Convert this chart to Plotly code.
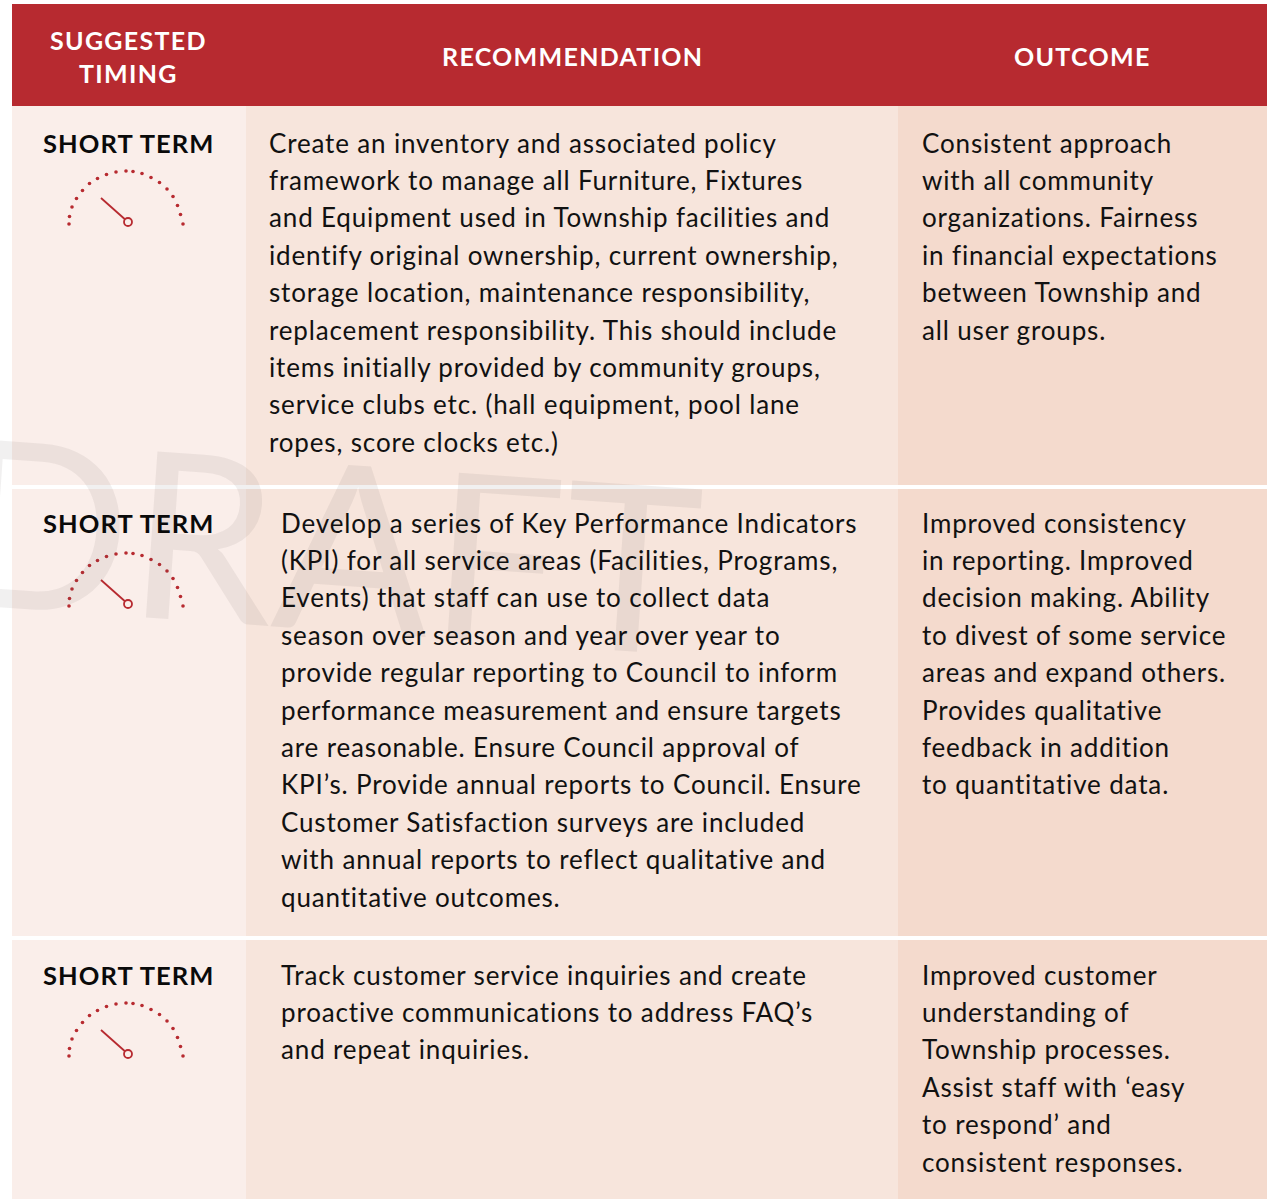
import plotly.graph_objects as go

HEADERS = ["SUGGESTED<br>TIMING", "RECOMMENDATION", "OUTCOME"]
HEADER_X = [128.5, 572, 1082.5]
HEADER_Y = [56, 56, 56]
TIMING = ["SHORT TERM", "SHORT TERM", "SHORT TERM"]
RECOMMENDATIONS = [
    ["Create an inventory and associated policy", "framework to manage all Furniture, Fixtures",
     "and Equipment used in Township facilities and", "identify original ownership, current ownership,",
     "storage location, maintenance responsibility,", "replacement responsibility. This should include",
     "items initially provided by community groups,", "service clubs etc. (hall equipment, pool lane",
     "ropes, score clocks etc.)"],
    ["Develop a series of Key Performance Indicators", "(KPI) for all service areas (Facilities, Programs,",
     "Events) that staff can use to collect data", "season over season and year over year to",
     "provide regular reporting to Council to inform", "performance measurement and ensure targets",
     "are reasonable. Ensure Council approval of", "KPI’s. Provide annual reports to Council. Ensure",
     "Customer Satisfaction surveys are included", "with annual reports to reflect qualitative and",
     "quantitative outcomes."],
    ["Track customer service inquiries and create", "proactive communications to address FAQ’s",
     "and repeat inquiries."],
]
OUTCOMES = [
    ["Consistent approach", "with all community", "organizations. Fairness", "in financial expectations",
     "between Township and", "all user groups."],
    ["Improved consistency", "in reporting. Improved", "decision making. Ability", "to divest of some service",
     "areas and expand others.", "Provides qualitative", "feedback in addition", "to quantitative data."],
    ["Improved customer", "understanding of", "Township processes.", "Assist staff with ‘easy",
     "to respond’ and", "consistent responses."],
]
ROW_TOPS = [106, 489, 940]
ROW_BOTTOMS = [485, 936, 1199]
REC_X = [267, 279, 279]
OUT_X = 920
FIRST_LINE = [142.6, 522.6, 974.6]
LINE_STEP = 37.4
GAUGE_Y = [224, 606, 1056]
GAUGE_DOT_DX = [-57, -56.5, -54, -49.5, -43.5, -36.5, -28.5, -19.5, -10, 0, 7, 16, 25, 33.5, 41, 47, 51.5, 54.5, 57]
GAUGE_DOT_DY = [0, -7.5, -17, -25.5, -33.5, -40.5, -45.5, -49.5, -52, -53, -52.5, -50.5, -46.5, -41.5, -35, -27.5, -18.5, -9.5, 0]

RED = "#B72A30"
FONT = "Lato"
BODY = 26


def spaced(text, px):
    return "<br>".join(f'<span style="letter-spacing:{px}px">{t}</span>' for t in text.split("<br>"))


fig = go.Figure()
shapes = [dict(type="rect", x0=12, x1=1267, y0=4, y1=106, fillcolor=RED, line_width=0, layer="below")]
for t, b in zip(ROW_TOPS, ROW_BOTTOMS):
    for x0, x1, c in [(12, 246, "#FAEEEA"), (246, 898, "#F7E5DC"), (898, 1267, "#F4DACD")]:
        shapes.append(dict(type="rect", x0=x0, x1=x1, y0=t, y1=b, fillcolor=c, line_width=0, layer="below"))

ann = [dict(text="DRAFT", x=327, y=540, textangle=4, showarrow=False, xanchor="center", yanchor="middle",
            font=dict(family=FONT, size=232, color="rgba(100,90,90,0.09)"))]
for h, x, y in zip(HEADERS, HEADER_X, HEADER_Y):
    ann.append(dict(text=spaced(h, 1.3), x=x, y=y, showarrow=False, xanchor="center", yanchor="middle", align="center",
                    font=dict(family=FONT, size=25, color="white", weight=700)))
for i in range(3):
    ann.append(dict(text=spaced(TIMING[i], 1.1), x=129, y=FIRST_LINE[i], showarrow=False, xanchor="center", yanchor="middle",
                    font=dict(family=FONT, size=25.5, color="#0a0a0a", weight=700)))
    for j, line in enumerate(RECOMMENDATIONS[i]):
        ann.append(dict(text=spaced(line, 0.85), x=REC_X[i], y=FIRST_LINE[i] + j * LINE_STEP, showarrow=False, xanchor="left",
                        yanchor="middle", font=dict(family=FONT, size=BODY, color="#111")))
    for j, line in enumerate(OUTCOMES[i]):
        ann.append(dict(text=spaced(line, 0.85), x=OUT_X, y=FIRST_LINE[i] + j * LINE_STEP, showarrow=False, xanchor="left",
                        yanchor="middle", font=dict(family=FONT, size=BODY, color="#111")))
    gy = GAUGE_Y[i]
    fig.add_trace(go.Scatter(x=[126 + d for d in GAUGE_DOT_DX], y=[gy + d for d in GAUGE_DOT_DY], mode="markers",
                             marker=dict(size=3.6, color=RED), hoverinfo="skip", showlegend=False))
    fig.add_trace(go.Scatter(x=[101, 128], y=[gy - 26, gy - 2], mode="lines", line=dict(color=RED, width=1.8),
                             hoverinfo="skip", showlegend=False))
    fig.add_trace(go.Scatter(x=[128], y=[gy - 2], mode="markers",
                             marker=dict(size=8, color="#FAEEEA", line=dict(color=RED, width=1.8)),
                             hoverinfo="skip", showlegend=False))

fig.update_layout(width=1268, height=1199, margin=dict(l=0, r=0, t=0, b=0), paper_bgcolor="white",
                  plot_bgcolor="white", shapes=shapes, annotations=ann, showlegend=False,
                  xaxis=dict(range=[0, 1268], visible=False, fixedrange=True),
                  yaxis=dict(range=[1199, 0], visible=False, fixedrange=True))
fig.write_html("out.html", config=dict(displayModeBar=False),
               post_script="document.body.style.margin='0';document.body.style.overflow='hidden';")
